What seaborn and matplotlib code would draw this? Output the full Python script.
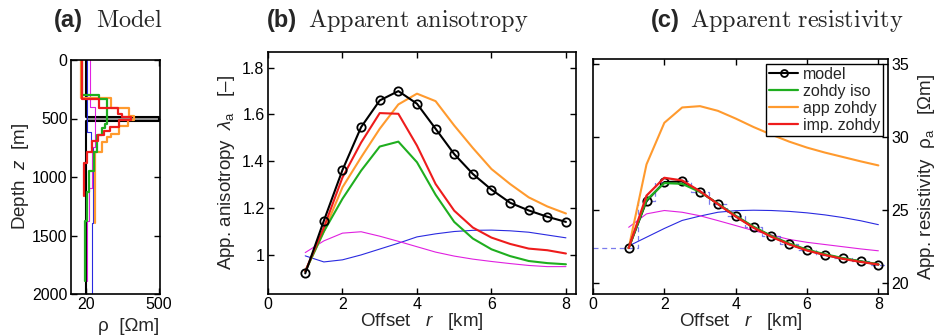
import numpy as np
import matplotlib
matplotlib.use('Agg')
import matplotlib.pyplot as plt
import seaborn as sns
from matplotlib.lines import Line2D
from matplotlib.ticker import NullLocator

sns.set_style('ticks')
plt.rcParams['font.family'] = ['Liberation Sans', 'DejaVu Sans']
plt.rcParams['mathtext.fontset'] = 'custom'
plt.rcParams['mathtext.rm'] = 'Liberation Sans'
plt.rcParams['mathtext.it'] = 'Liberation Sans:italic'
plt.rcParams['axes.linewidth'] = 1.2
plt.rcParams['axes.edgecolor'] = 'black'

# colours
C_ISO = '#1fae1f'
C_APP = '#ff9a2e'
C_IMP = '#ee1c1c'
C_MAG = '#e020e0'
C_BLUE = '#2a2ae0'

# ---- (a) model: layer boundaries [m] and resistivities [Ohm m]
model_z = [0, 485, 520, 2000]
model_rho = [20, 500, 20]
orange_z = [0, 325, 410, 480, 515, 565, 630, 660, 705, 790, 1390]
orange_rho = [16, 60, 135, 165, 130, 88, 60, 50, 41, 30]
red_z = [0, 330, 410, 465, 485, 515, 570, 610, 645, 695, 785, 880, 1160]
red_rho = [17.3, 36, 82, 100, 148, 86, 59, 44, 35, 26, 21, 18.5]
green_z = [0, 295, 330, 545, 585, 645, 785, 945, 1130, 1375, 1890]
green_rho = [16.8, 36.4, 50.4, 46.7, 40, 32.4, 29.3, 23.1, 20.9, 19.4]
mag_z = [0, 400, 745, 1090, 1380, 1890]
mag_rho = [24, 30, 26, 23, 21]
blue_z = [0, 615, 750, 1390, 2000]
blue_rho = [21, 25, 28, 26]

# ---- offsets [km]
r = [1, 1.5, 2, 2.5, 3, 3.5, 4, 4.5, 5, 5.5, 6, 6.5, 7, 7.5, 8]

# ---- (b) apparent anisotropy
lam_model = [0.921, 1.146, 1.363, 1.546, 1.660, 1.700, 1.646, 1.539, 1.431, 1.346, 1.279, 1.223, 1.190, 1.163, 1.141]
lam_app = [0.93, 1.10, 1.289, 1.417, 1.539, 1.643, 1.689, 1.657, 1.553, 1.457, 1.367, 1.303, 1.246, 1.207, 1.177]
lam_imp = [0.93, 1.117, 1.331, 1.48, 1.606, 1.603, 1.467, 1.303, 1.189, 1.117, 1.074, 1.047, 1.027, 1.020, 1.006]
lam_iso = [0.93, 1.10, 1.24, 1.36, 1.463, 1.484, 1.396, 1.257, 1.141, 1.07, 1.024, 0.995, 0.974, 0.965, 0.96]
lam_blue = [0.996, 0.97, 0.979, 1.0, 1.025, 1.05, 1.077, 1.09, 1.10, 1.105, 1.106, 1.103, 1.097, 1.085, 1.073]
lam_mag = [1.01, 1.06, 1.093, 1.099, 1.08, 1.058, 1.035, 1.012, 0.995, 0.982, 0.972, 0.963, 0.955, 0.950, 0.950]

# ---- (c) apparent resistivity
rho_model = [22.41, 25.62, 26.93, 26.97, 26.28, 25.44, 24.59, 23.83, 23.21, 22.68, 22.27, 21.95, 21.70, 21.49, 21.28]
rho_app = [22.41, 28.14, 30.99, 32.04, 32.13, 31.81, 31.28, 30.7, 30.18, 29.7, 29.29, 28.95, 28.65, 28.35, 28.07]
rho_imp = [22.41, 26.0, 27.22, 27.04, 26.3, 25.42, 24.57, 23.8, 23.18, 22.66, 22.24, 21.93, 21.67, 21.46, 21.28]
rho_iso = [22.41, 25.7, 26.86, 26.81, 26.25, 25.45, 24.62, 23.87, 23.24, 22.72, 22.3, 21.98, 21.72, 21.5, 21.3]
rho_blue = [22.55, 23.15, 23.75, 24.3, 24.6, 24.86, 24.97, 25.0, 24.98, 24.92, 24.82, 24.68, 24.5, 24.28, 24.01]
rho_mag = [23.83, 24.75, 24.98, 24.86, 24.62, 24.29, 23.95, 23.6, 23.3, 23.0, 22.8, 22.65, 22.5, 22.35, 22.22]

R_MAX = 8.27
TICK = 11.5
LAB = 13.5


def steps(z, rho):
    """ layer table -> staircase coordinates """
    zz = np.repeat(z, 2)[1:-1]
    rr = np.repeat(rho, 2).astype(float)
    return rr, zz


def line(ax, x, y, color, lw, **kw):
    sns.lineplot(x=x, y=y, sort=False, estimator=None, color=color, lw=lw, ax=ax, **kw)


def box_ticks(ax):
    ax.tick_params(direction='in', length=4, width=1, top=True, right=True,
                   labelsize=TICK, pad=2.5, colors='black')


W, H = 938, 335
fig = plt.figure(figsize=(W / 100, H / 100), dpi=100)


def rect(l, rgt, t, b):
    return [l / W, 1 - b / H, (rgt - l) / W, (b - t) / H]


axA = fig.add_axes(rect(71, 160, 60, 294))
axB = fig.add_axes(rect(268, 576, 52, 294))
axC = fig.add_axes(rect(593, 888, 59, 294))

# ---- (a)
axA.fill_betweenx(model_z[1:3], model_rho[0], model_rho[1], color='0.6', lw=0)
line(axA, *steps(model_z, model_rho), 'black', 1.5)
line(axA, *steps(blue_z, blue_rho), C_BLUE, 0.8)
line(axA, *steps(mag_z, mag_rho), C_MAG, 0.8)
line(axA, *steps(orange_z, orange_rho), C_APP, 1.6)
line(axA, *steps(green_z, green_rho), C_ISO, 1.6)
line(axA, *steps(red_z, red_rho), C_IMP, 1.6)
axA.set_xscale('log')
axA.set_xlim(10.5, 520)
axA.set_ylim(2000, 0)
axA.set_xticks([20, 500])
axA.set_xticklabels(['20', '500'])
axA.xaxis.set_minor_locator(NullLocator())
axA.set_yticks([0, 500, 1000, 1500, 2000])
box_ticks(axA)
axA.set_xlabel('ρ  [Ωm]', fontsize=LAB, va='bottom')
axA.xaxis.set_label_coords(0.65, -0.175)
axA.set_ylabel(r'Depth  $z$  [m]', fontsize=LAB, labelpad=1)

# ---- (b)
line(axB, r, lam_blue, C_BLUE, 0.8)
line(axB, r, lam_mag, C_MAG, 0.8)
line(axB, r, lam_app, C_APP, 1.5)
line(axB, r, lam_iso, C_ISO, 1.5)
line(axB, r, lam_imp, C_IMP, 1.5)
line(axB, r, lam_model, 'black', 1.5, marker='o', markersize=6,
     markerfacecolor='none', markeredgecolor='black', markeredgewidth=1.3)
axB.set_xlim(0, R_MAX)
axB.set_ylim(0.833, 1.867)
axB.set_xticks([0, 2, 4, 6, 8])
axB.set_yticks([1, 1.2, 1.4, 1.6, 1.8])
axB.set_yticklabels(['1', '1.2', '1.4', '1.6', '1.8'])
box_ticks(axB)
axB.set_xlabel(r'Offset   $r$   [km]', fontsize=LAB, labelpad=-1)
axB.set_ylabel(r'App. anisotropy  $\lambda_{\mathrm{a}}$   [–]', fontsize=LAB, labelpad=4)

# ---- (c)
line(axC, r, rho_blue, C_BLUE, 0.8)
line(axC, r, rho_mag, C_MAG, 0.8)
line(axC, [0] + r + [R_MAX], [rho_model[0]] + rho_model + [rho_model[-1]],
     '#5a5ae8', 0.9, drawstyle='steps-mid', linestyle=(0, (4, 3)), alpha=0.8)
line(axC, r, rho_app, C_APP, 1.5)
line(axC, r, rho_model, 'black', 1.5, marker='o', markersize=6,
     markerfacecolor='none', markeredgecolor='black', markeredgewidth=1.3)
line(axC, r, rho_iso, C_ISO, 1.6)
line(axC, r, rho_imp, C_IMP, 1.6)
axC.set_xlim(0, R_MAX)
axC.set_ylim(19.26, 35.36)
axC.set_xticks([0, 2, 4, 6, 8])
axC.set_yticks([20, 25, 30, 35])
box_ticks(axC)
axC.tick_params(labelleft=False, labelright=True)
axC.yaxis.set_label_position('right')
axC.set_xlabel(r'Offset   $r$   [km]', fontsize=LAB, labelpad=-1)
axC.set_ylabel(r'App. resistivity  ρ$_{\mathrm{a}}$   [Ωm]', fontsize=LAB, labelpad=5)

handles = [
    Line2D([], [], color='black', lw=1.5, marker='o', markersize=5,
           markerfacecolor='none', markeredgewidth=1.3),
    Line2D([], [], color=C_ISO, lw=1.6),
    Line2D([], [], color=C_APP, lw=1.6),
    Line2D([], [], color=C_IMP, lw=1.6),
]
leg = axC.legend(handles, ['model', 'zohdy iso', 'app zohdy', 'imp. zohdy'],
                 loc='upper right', fontsize=11.5, frameon=True, fancybox=False,
                 framealpha=1, edgecolor='black', borderpad=0.2, labelspacing=0.12,
                 handlelength=1.8, handletextpad=0.3, borderaxespad=0.3)
leg.get_frame().set_linewidth(1.0)

# ---- panel titles
ty = 1 - 27 / H
for x0, x1, lab, name in [(54, 96, '(a)', 'Model'),
                          (267, 308, '(b)', 'Apparent anisotropy'),
                          (651, 690, '(c)', 'Apparent resistivity')]:
    fig.text(x0 / W, ty, lab, fontsize=17, fontweight='bold', va='baseline')
    fig.text(x1 / W, ty, r'$\mathrm{' + name.replace(' ', r'\ ') + '}$',
             math_fontfamily='cm', fontsize=17.5, va='baseline')

fig.savefig('out.png', dpi=100)
